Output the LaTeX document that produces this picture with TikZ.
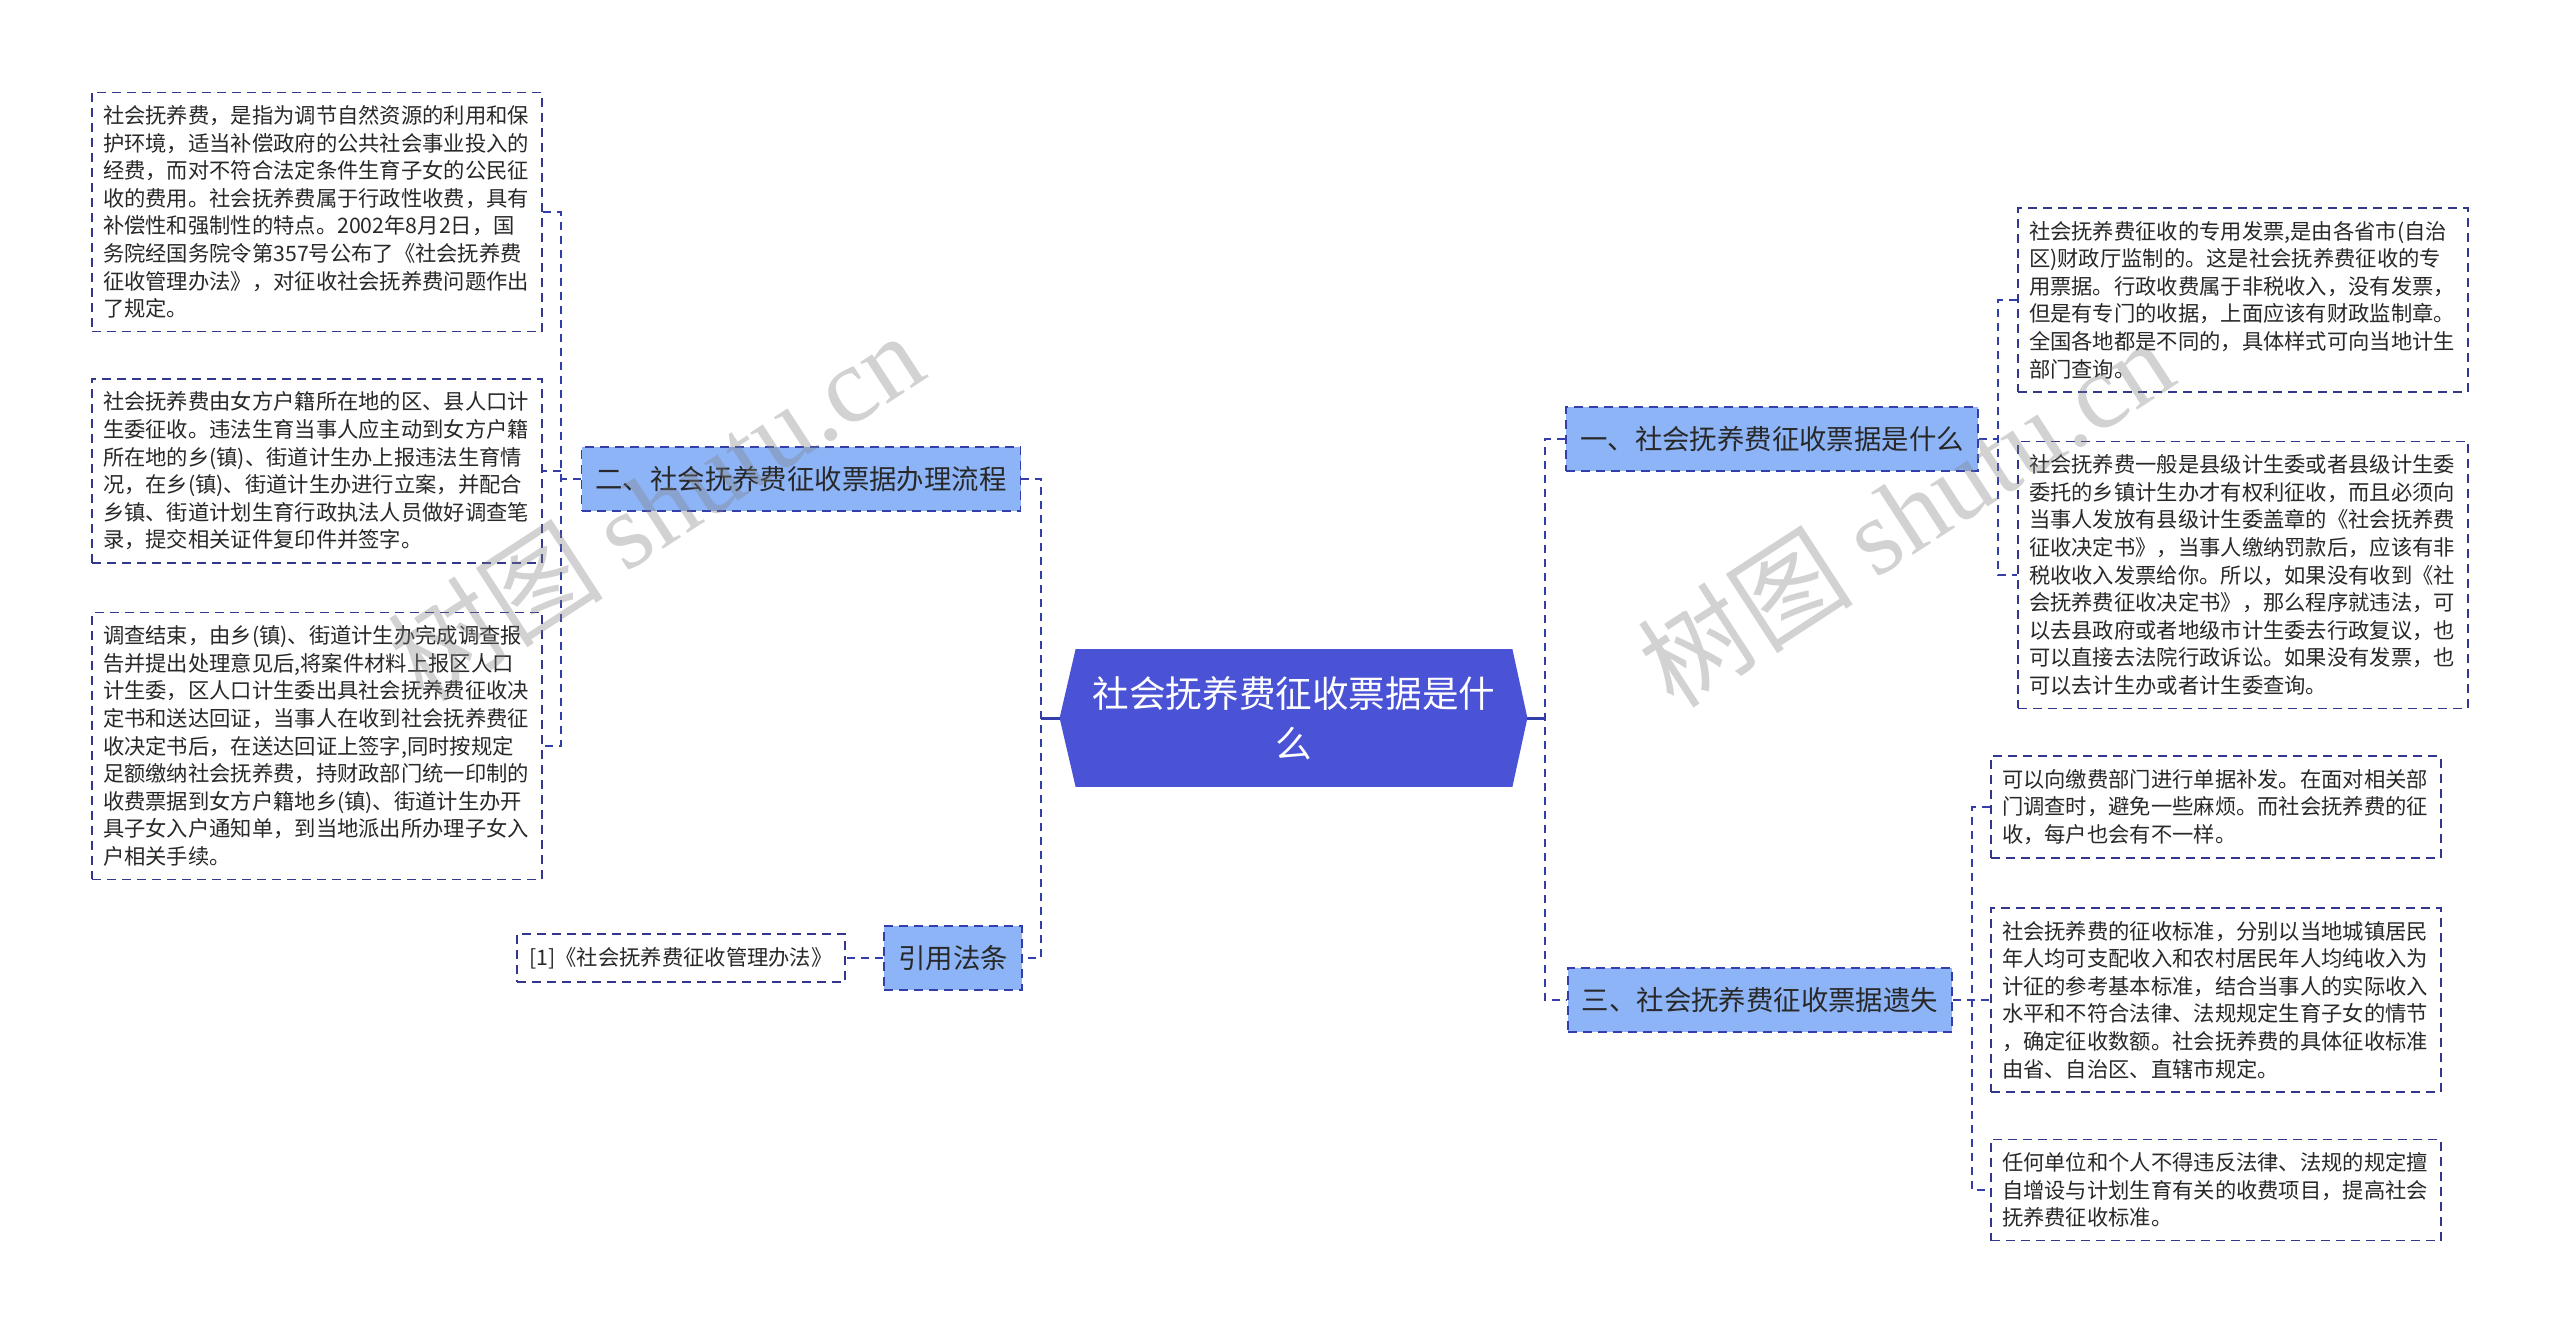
\documentclass[tikz,border=0pt]{standalone}
\usepackage{fontspec}
\setmainfont{Noto Sans CJK SC}
\newfontfamily\wmfont{Liberation Serif}
\usetikzlibrary{backgrounds}

\definecolor{rootblue}{RGB}{74,82,214}
\definecolor{branchblue}{RGB}{141,180,247}
\definecolor{linkblue}{RGB}{52,62,170}
\definecolor{leafline}{RGB}{50,54,140}
\definecolor{textgray}{RGB}{40,40,40}

\tikzset{
	root/.style={minimum width=218pt, minimum height=68.5pt, inner sep=0pt, text=white, align=center, font=\fontsize{18.3pt}{25pt}\selectfont},
	branch/.style={draw=linkblue, dash pattern=on 4.5pt off 3pt, line width=0.9pt, fill=branchblue, inner xsep=7pt, inner ysep=0pt, minimum height=32pt, text=textgray, font=\fontsize{13.7pt}{16pt}\selectfont},
	note/.style={draw=leafline, dash pattern=on 4.5pt off 3pt, line width=0.8pt, text=textgray, font=\fontsize{10.65pt}{13.8pt}\selectfont},
	leaf/.style={note, text width=214pt, inner xsep=5.5pt, inner ysep=6.5pt, align=left},
	link/.style={draw=linkblue, line width=1pt, dash pattern=on 4pt off 3pt},
	stem/.style={draw=linkblue, line width=1.5pt},
	watermark/.style={text=gray, text opacity=0.35, rotate=33, font=\fontsize{54pt}{60pt}\selectfont}
}

\begin{document}
\begin{tikzpicture}[x=0.5pt, y=-0.5pt]
	\useasboundingbox (0,0) rectangle (2560,1334);

	% Define the nodes with specific positions
	\node[root] (root) at (1294,718) {社会抚养费征收票据是什\\么};
	\coordinate (rootL) at ([xshift=-8pt]root.west);
	\coordinate (rootR) at ([xshift=7.5pt]root.east);
	\begin{scope}[on background layer]
		\fill[white] (0,0) rectangle (2560,1334);
		\fill[rootblue] (root.north west) -- (root.north east) -- (rootR) -- (root.south east) -- (root.south west) -- (rootL) -- cycle;
	\end{scope}

	\node[branch] (b2) at (801,479) {二、社会抚养费征收票据办理流程};
	\node[branch] (bref) at (953,958) {引用法条};
	\node[branch] (b1) at (1772,439) {一、社会抚养费征收票据是什么};
	\node[branch] (b3) at (1760,1000) {三、社会抚养费征收票据遗失};

	\node[leaf] (l1) at (317,212) {社会抚养费，是指为调节自然资源的利用和保\\护环境，适当补偿政府的公共社会事业投入的\\经费，而对不符合法定条件生育子女的公民征\\收的费用。社会抚养费属于行政性收费，具有\\补偿性和强制性的特点。2002年8月2日，国\\务院经国务院令第357号公布了《社会抚养费\\征收管理办法》，对征收社会抚养费问题作出\\了规定。};
	\node[leaf] (l2) at (317,471) {社会抚养费由女方户籍所在地的区、县人口计\\生委征收。违法生育当事人应主动到女方户籍\\所在地的乡(镇)、街道计生办上报违法生育情\\况，在乡(镇)、街道计生办进行立案，并配合\\乡镇、街道计划生育行政执法人员做好调查笔\\录，提交相关证件复印件并签字。};
	\node[leaf] (l3) at (317,746) {调查结束，由乡(镇)、街道计生办完成调查报\\告并提出处理意见后,将案件材料上报区人口\\计生委，区人口计生委出具社会抚养费征收决\\定书和送达回证，当事人在收到社会抚养费征\\收决定书后，在送达回证上签字,同时按规定\\足额缴纳社会抚养费，持财政部门统一印制的\\收费票据到女方户籍地乡(镇)、街道计生办开\\具子女入户通知单，到当地派出所办理子女入\\户相关手续。};
	\node[note, minimum width=164pt, minimum height=24pt] (cite) at (681,958) {[1]《社会抚养费征收管理办法》};

	\node[leaf] (r1) at (2243,300) {社会抚养费征收的专用发票,是由各省市(自治\\区)财政厅监制的。这是社会抚养费征收的专\\用票据。行政收费属于非税收入，没有发票，\\但是有专门的收据，上面应该有财政监制章。\\全国各地都是不同的，具体样式可向当地计生\\部门查询。};
	\node[leaf] (r2) at (2243,575) {社会抚养费一般是县级计生委或者县级计生委\\委托的乡镇计生办才有权利征收，而且必须向\\当事人发放有县级计生委盖章的《社会抚养费\\征收决定书》，当事人缴纳罚款后，应该有非\\税收收入发票给你。所以，如果没有收到《社\\会抚养费征收决定书》，那么程序就违法，可\\以去县政府或者地级市计生委去行政复议，也\\可以直接去法院行政诉讼。如果没有发票，也\\可以去计生办或者计生委查询。};
	\node[leaf] (r3) at (2216,807) {可以向缴费部门进行单据补发。在面对相关部\\门调查时，避免一些麻烦。而社会抚养费的征\\收，每户也会有不一样。};
	\node[leaf] (r4) at (2216,1000) {社会抚养费的征收标准，分别以当地城镇居民\\年人均可支配收入和农村居民年人均纯收入为\\计征的参考基本标准，结合当事人的实际收入\\水平和不符合法律、法规规定生育子女的情节\\，确定征收数额。社会抚养费的具体征收标准\\由省、自治区、直辖市规定。};
	\node[leaf] (r5) at (2216,1190) {任何单位和个人不得违反法律、法规的规定擅\\自增设与计划生育有关的收费项目，提高社会\\抚养费征收标准。};

	\coordinate (jl) at (1041,718);
	\coordinate (jr) at (1545,718);
	\coordinate (j2) at (561,479);
	\coordinate (j1) at (1998,439);
	\coordinate (j3) at (1972,1000);

	% Draw the edges between nodes
	\draw[stem] (rootL) -- (jl);
	\draw[stem] (rootR) -- (jr);
	\draw[link] (b2.east) -| (jl) |- (bref.east);
	\draw[link] (b1.west) -| (jr) |- (b3.west);
	\draw[link] (bref.west) -- (cite.east);

	\draw[link] (b2.west) -- (j2);
	\draw[link] (l1.east) -| (j2) |- (l3.east);
	\draw[link] (j2 |- l2.east) -- (l2.east);

	\draw[link] (b1.east) -- (j1);
	\draw[link] (r1.west) -| (j1) |- (r2.west);

	\draw[link] (b3.east) -- (j3) -- (r4.west);
	\draw[link] (r3.west) -| (j3) |- (r5.west);

	% Watermarks
	\node[watermark] (wm1) at (655,506) {树图 {\wmfont shutu.cn}};
	\node[watermark] (wm2) at (1905,512) {树图 {\wmfont shutu.cn}};
\end{tikzpicture}
\end{document}
